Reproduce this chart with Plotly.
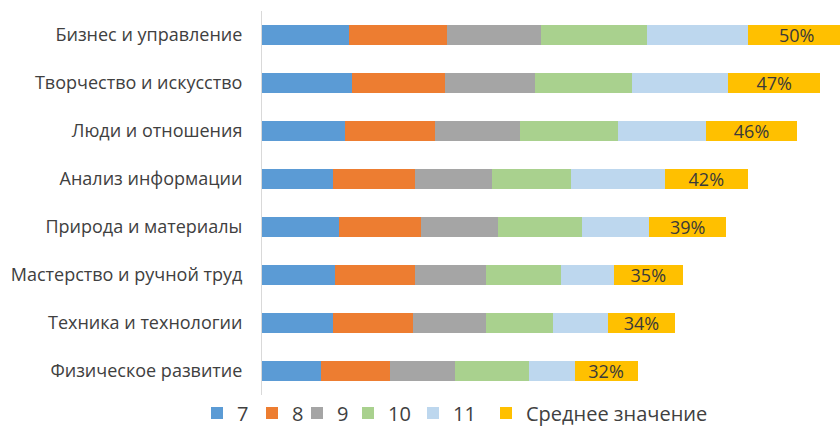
import plotly.graph_objects as go

categories = [
    "Бизнес и управление",
    "Творчество и искусство",
    "Люди и отношения",
    "Анализ информации",
    "Природа и материалы",
    "Мастерство и ручной труд",
    "Техника и технологии",
    "Физическое развитие",
]
grade7 = [44, 46, 42, 36, 39, 37, 36, 30]
grade8 = [50, 47, 46, 42, 42, 41, 41, 35]
grade9 = [48, 46, 43, 39, 39, 36, 37, 33]
grade10 = [54, 49, 50, 40, 43, 38, 34, 38]
grade11 = [51, 49, 45, 48, 34, 27, 28, 23]
average = [50, 47, 46, 42, 39, 35, 34, 32]

series_names = ["7", "8", "9", "10", "11", "Среднее значение"]
series_values = [grade7, grade8, grade9, grade10, grade11, average]
colors = ["#5B9BD5", "#ED7D31", "#A5A5A5", "#A9D18E", "#BDD7EE", "#FFC000"]

FONT = "Open Sans"
PLOT_LEFT = 262
PLOT_W = 840 - PLOT_LEFT
# pixel x of each legend box (left edge)
legend_left_px = [197, 252, 297, 348, 413, 486]

fig = go.Figure()
for i, (name, vals, col) in enumerate(zip(series_names, series_values, colors)):
    is_avg = name == "Среднее значение"
    fig.add_trace(go.Bar(
        y=categories,
        x=vals,
        name=name,
        orientation="h",
        legend="legend" if i == 0 else f"legend{i + 1}",
        marker=dict(color=col, line=dict(width=0)),
        text=[f"{v}%" for v in vals] if is_avg else None,
        textposition="inside" if is_avg else "none",
        insidetextanchor="middle",
        textfont=dict(family=FONT, size=18, color="#3a3a3a"),
        constraintext="none",
        hoverinfo="x+name",
    ))

legend_layout = {}
for i, lx in enumerate(legend_left_px):
    key = "legend" if i == 0 else f"legend{i + 1}"
    legend_layout[key] = dict(
        orientation="h",
        x=(lx - PLOT_LEFT) / PLOT_W,
        xanchor="left",
        y=-0.047,
        yanchor="middle",
        font=dict(family=FONT, size=20, color="#404040"),
        itemwidth=30,
        bgcolor="rgba(0,0,0,0)",
    )

fig.update_layout(
    barmode="stack",
    width=840,
    height=428,
    margin=dict(l=PLOT_LEFT, r=0, t=11, b=33, autoexpand=False),
    paper_bgcolor="white",
    plot_bgcolor="white",
    bargap=0.58,
    font=dict(family=FONT, color="#404040"),
    xaxis=dict(range=[0, 294], visible=False, showgrid=False, zeroline=False),
    yaxis=dict(
        autorange="reversed",
        automargin=False,
        showline=True,
        linecolor="#D9D9D9",
        linewidth=1,
        ticks="",
        ticklabelstandoff=15,
        tickfont=dict(family=FONT, size=18, color="#404040"),
    ),
    showlegend=True,
    **legend_layout,
)

fig.write_html(
    "out.html",
    config={"displayModeBar": False},
    post_script="document.body.style.margin='0';document.body.style.overflow='hidden';",
)
